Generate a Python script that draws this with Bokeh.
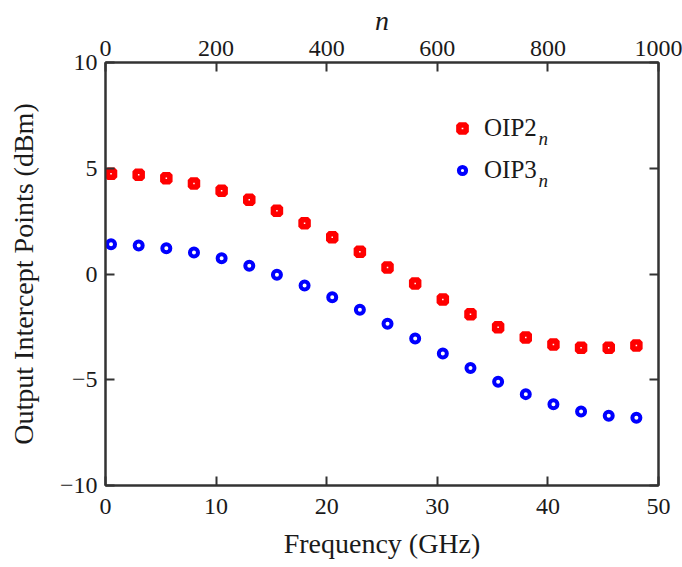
from bokeh.plotting import figure
from bokeh.models import (Range1d, LinearAxis, FixedTicker, Legend, LegendItem,
                          Label)
from bokeh.embed import file_html
from bokeh.resources import INLINE

# Frequency sweep (GHz) and the measured output intercept points (dBm)
freq_ghz = [0.5, 3.0, 5.5, 8.0, 10.5, 13.0, 15.5, 18.0, 20.5, 23.0,
            25.5, 28.0, 30.5, 33.0, 35.5, 38.0, 40.5, 43.0, 45.5, 48.0]
oip2_dbm = [4.74, 4.69, 4.53, 4.28, 3.94, 3.51, 2.99, 2.40, 1.74, 1.05,
            0.31, -0.45, -1.21, -1.90, -2.52, -3.00, -3.33, -3.49, -3.49, -3.38]
oip3_dbm = [1.41, 1.35, 1.22, 1.02, 0.75, 0.39, -0.04, -0.54, -1.10, -1.69,
            -2.35, -3.05, -3.76, -4.45, -5.10, -5.68, -6.16, -6.50, -6.70, -6.80]

x_ticks = [0, 10, 20, 30, 40, 50]
y_ticks = [-10, -5, 0, 5, 10]
n_ticks = [0, 200, 400, 600, 800, 1000]

FONT = "Liberation Serif"
AXIS_COLOR = "#333333"
TEXT_COLOR = "#1a1a1a"

p = figure(width=682, height=567, output_backend="svg", toolbar_location=None,
           x_range=Range1d(0, 50), y_range=Range1d(-10, 10),
           min_border_left=105, min_border_right=24,
           min_border_top=62, min_border_bottom=82)
p.extra_x_ranges = {"n": Range1d(0, 1000)}

p.xgrid.visible = False
p.ygrid.visible = False
p.outline_line_color = AXIS_COLOR
p.outline_line_width = 2
p.background_fill_color = "white"
p.border_fill_color = "white"


def style_axis(ax, ticks):
    ax.ticker = FixedTicker(ticks=ticks)
    ax.axis_line_color = AXIS_COLOR
    ax.axis_line_width = 2
    ax.major_tick_line_color = AXIS_COLOR
    ax.major_tick_line_width = 2
    ax.major_tick_in = 9
    ax.major_tick_out = 0
    ax.minor_tick_line_color = None
    ax.major_label_text_font = FONT
    ax.major_label_text_font_size = "24px"
    ax.major_label_text_color = TEXT_COLOR
    ax.axis_label_text_font = FONT
    ax.axis_label_text_font_style = "normal"
    ax.axis_label_text_color = TEXT_COLOR
    ax.axis_label_text_font_size = "28px"


style_axis(p.xaxis[0], x_ticks)
p.xaxis[0].axis_label = "Frequency (GHz)"
p.xaxis[0].major_label_standoff = 13
p.xaxis[0].axis_label_standoff = 11

style_axis(p.yaxis[0], y_ticks)
p.yaxis[0].axis_label = "Output Intercept Points (dBm)"
p.yaxis[0].major_label_standoff = 8
p.yaxis[0].axis_label_standoff = 18

# sample-index axis along the top
top = LinearAxis(x_range_name="n", axis_label="n")
style_axis(top, n_ticks)
top.axis_label_text_font_style = "italic"
top.axis_label_text_font_size = "28px"
top.major_label_standoff = 7
top.axis_label_standoff = 2
p.add_layout(top, "above")

# right-hand frame side: inward ticks only
right = LinearAxis()
style_axis(right, y_ticks)
right.major_label_text_color = None
p.add_layout(right, "right")

r2 = p.scatter(freq_ghz, oip2_dbm, marker="square", size=7,
               fill_color="white", line_color="#ff0000", line_width=5.5)
r3 = p.scatter(freq_ghz, oip3_dbm, marker="circle", size=8,
               fill_color="white", line_color="#0000ff", line_width=4)

legend = Legend(items=[LegendItem(label="OIP2", renderers=[r2]),
                       LegendItem(label="OIP3", renderers=[r3])],
                location=(348, 300), glyph_width=18, glyph_height=18,
                label_height=30, label_text_font=FONT,
                label_text_font_size="25px", label_text_color=TEXT_COLOR,
                label_standoff=13, spacing=12, border_line_color=None,
                background_fill_alpha=0, padding=0, margin=0)
p.add_layout(legend, "center")

# italic subscript n after each legend entry
for base in (347, 305):
    p.add_layout(Label(x=433, y=base, x_units="screen", y_units="screen",
                       text="n", text_font=FONT, text_font_style="italic",
                       text_font_size="19px", text_color=TEXT_COLOR,
                       text_baseline="alphabetic"))

open("out.html", "w").write(file_html(p, INLINE))
